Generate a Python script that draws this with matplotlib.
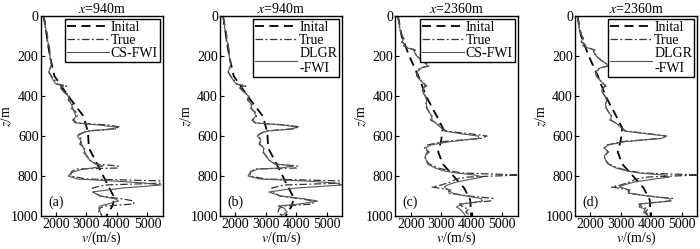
"""Velocity profiles at x=940m and x=2360m: initial, true and inverted (CS-FWI / DLGR-FWI)."""

import matplotlib

matplotlib.use("Agg")
import matplotlib.pyplot as plt  # noqa: E402

plt.rcParams["font.family"] = ["Liberation Serif", "DejaVu Serif"]
plt.rcParams["mathtext.fontset"] = "stix"

# --- data (z in m, v in m/s) ---
depth_940 = [0, 20, 40, 60, 80, 100, 120, 140, 160, 180,
             200, 220, 240, 260, 280, 300, 320, 340, 350, 360,
             380, 400, 420, 440, 460, 480, 500, 520, 535, 545,
             555, 565, 575, 590, 600, 620, 640, 660, 680, 700,
             720, 740, 750, 760, 765, 780, 800, 815, 825, 835,
             845, 860, 880, 900, 915, 925, 940, 950, 960, 980,
             1000]
true_940 = [1600, 1620, 1660, 1640, 1700, 1720, 1700, 1760, 1780, 1810,
            1790, 1830, 1860, 1820, 1770, 1850, 1950, 2050, 2350, 2150,
            2300, 2450, 2400, 2550, 2500, 2650, 2700, 2550, 2650, 3700,
            4100, 3800, 3000, 2800, 2750, 2850, 2780, 2950, 2900, 3020,
            3100, 3300, 4050, 4050, 2650, 2500, 2480, 3000, 5600, 5600,
            3600, 3200, 3250, 3450, 4200, 4550, 4550, 3600, 3450, 3400,
            3550]
cs_940 = [1600, 1610, 1640, 1660, 1690, 1730, 1720, 1750, 1790, 1800,
          1800, 1820, 1850, 1810, 1760, 1830, 1900, 2000, 2250, 2150,
          2250, 2400, 2430, 2500, 2550, 2600, 2650, 2580, 2700, 3400,
          3950, 3950, 3100, 2750, 2700, 2800, 2850, 2900, 2950, 3000,
          3100, 3300, 3550, 3200, 2900, 2550, 2400, 2700, 3900, 4900,
          5450, 4200, 3200, 3450, 3950, 4050, 3700, 3450, 3400, 3450,
          3500]
dl_940 = [1600, 1620, 1650, 1650, 1700, 1720, 1710, 1760, 1780, 1800,
          1800, 1830, 1860, 1810, 1770, 1840, 1930, 2030, 2300, 2150,
          2280, 2430, 2420, 2520, 2530, 2620, 2680, 2560, 2680, 3550,
          4000, 3900, 3050, 2780, 2720, 2830, 2800, 2930, 2920, 3010,
          3100, 3300, 3900, 3500, 2750, 2500, 2420, 2800, 4300, 5300,
          5500, 4000, 3100, 3500, 4300, 4700, 4100, 3400, 3600, 3700,
          3500]
init_depth_940 = [0, 100, 200, 300, 400, 500, 580, 660, 745, 830, 910, 950, 1000]
init_940 = [1600, 1700, 1800, 1950, 2400, 2900, 3050, 3080, 3370, 3650, 3920, 3850, 3650]

depth_2360 = [0, 20, 40, 60, 80, 100, 110, 120, 130, 140,
              150, 160, 170, 180, 200, 220, 240, 250, 260, 280,
              300, 320, 340, 350, 360, 380, 400, 420, 440, 460,
              480, 500, 520, 540, 560, 575, 590, 600, 612, 628,
              645, 660, 680, 700, 720, 740, 760, 775, 785, 795,
              805, 815, 830, 845, 855, 870, 885, 900, 912, 925,
              940, 955, 965, 980, 1000]
true_2360 = [1580, 1600, 1640, 1620, 1680, 1720, 1800, 1720, 1700, 1820,
             1760, 1950, 2150, 2100, 2200, 2350, 2550, 2600, 2300, 2180,
             2200, 2320, 2450, 2520, 2400, 2380, 2480, 2550, 2500, 2520,
             2600, 2700, 2650, 2900, 3050, 3150, 4000, 4500, 4300, 3050,
             2550, 2450, 2600, 2450, 2500, 2600, 2900, 3300, 3700, 5600,
             3900, 3500, 3300, 3000, 2700, 3300, 3200, 3900, 4700, 4600,
             3600, 3700, 3900, 3800, 3950]
cs_2360 = [1580, 1600, 1630, 1640, 1670, 1720, 1760, 1740, 1720, 1800,
           1780, 1900, 2100, 2120, 2200, 2330, 2500, 2550, 2350, 2200,
           2220, 2300, 2430, 2480, 2420, 2400, 2470, 2520, 2500, 2540,
           2600, 2680, 2700, 2850, 3000, 3100, 3700, 4200, 4250, 3300,
           2650, 2500, 2550, 2480, 2500, 2550, 2800, 3100, 3500, 4100,
           4350, 4000, 3500, 3200, 3100, 3250, 3350, 3800, 4300, 4350,
           3700, 3500, 3600, 3700, 3800]
dl_2360 = [1580, 1600, 1640, 1630, 1680, 1720, 1780, 1730, 1710, 1810,
           1770, 1930, 2130, 2110, 2200, 2340, 2530, 2580, 2320, 2190,
           2210, 2310, 2440, 2500, 2410, 2390, 2480, 2540, 2500, 2530,
           2600, 2690, 2680, 2880, 3030, 3130, 3900, 4500, 4350, 3150,
           2580, 2470, 2580, 2460, 2500, 2580, 2850, 3200, 3600, 4400,
           4600, 4100, 3450, 3100, 2950, 3300, 3250, 3850, 4600, 4650,
           3650, 3600, 3800, 3750, 3900]
init_depth_2360 = [0, 100, 200, 300, 400, 500, 560, 620, 680, 740, 800, 860, 920, 1000]
init_2360 = [1580, 1700, 1950, 2250, 2500, 2850, 3050, 3000, 2900, 3050, 3400, 3750, 3950, 3980]

panels = [
    ("(a)", "940", init_depth_940, init_940, depth_940, true_940, cs_940, "CS-FWI"),
    ("(b)", "940", init_depth_940, init_940, depth_940, true_940, dl_940, "DLGR\n-FWI"),
    ("(c)", "2360", init_depth_2360, init_2360, depth_2360, true_2360, cs_2360, "CS-FWI"),
    ("(d)", "2360", init_depth_2360, init_2360, depth_2360, true_2360, dl_2360, "DLGR\n-FWI"),
]
lefts = [40.7, 220, 395.5, 575]

W, H = 700, 249
fig = plt.figure(figsize=(W / 100, H / 100), dpi=100)
fs = 10

for left, (tag, xpos, zi, vi, zt, vt, vinv, inv_label) in zip(lefts, panels):
    ax = fig.add_axes([left / W, 33 / H, 122 / W, 200 / H])
    ax.plot(vi, zi, color="black", lw=1.3, dashes=(5, 3), label="Inital")
    ax.plot(vt, zt, color="#333333", lw=0.9, dashes=(6, 2, 1.5, 2), label="True")
    ax.plot(vinv, zt, color="#555555", lw=0.8, label=inv_label)
    ax.set_xlim(1500, 5500)
    ax.set_ylim(1000, 0)
    ax.set_xticks([2000, 3000, 4000, 5000])
    ax.set_yticks(range(0, 1001, 200))
    ax.tick_params(direction="in", length=3, labelsize=fs, pad=1.5)
    for s in ax.spines.values():
        s.set_linewidth(1.0)
    ax.set_title(r"$x$=" + xpos + "m", fontsize=fs, pad=2)
    ax.set_xlabel(r"$v$/(m/s)", fontsize=fs, labelpad=-1)
    ax.set_ylabel(r"$z$/m", fontsize=fs)
    ax.yaxis.set_label_coords(-0.215, 0.5)
    ax.text(0.06, 0.05, tag, transform=ax.transAxes, fontsize=fs)
    leg = ax.legend(loc="upper right", fontsize=fs, frameon=True, fancybox=False,
                    framealpha=1, edgecolor="black", borderpad=0.15, borderaxespad=0.2,
                    handlelength=3.0, handletextpad=0.15, labelspacing=0.0)
    leg.get_frame().set_linewidth(1.0)
    for t in leg.get_texts():
        t.set_ha("left")

fig.savefig("out.png", dpi=100)
plt.close(fig)
